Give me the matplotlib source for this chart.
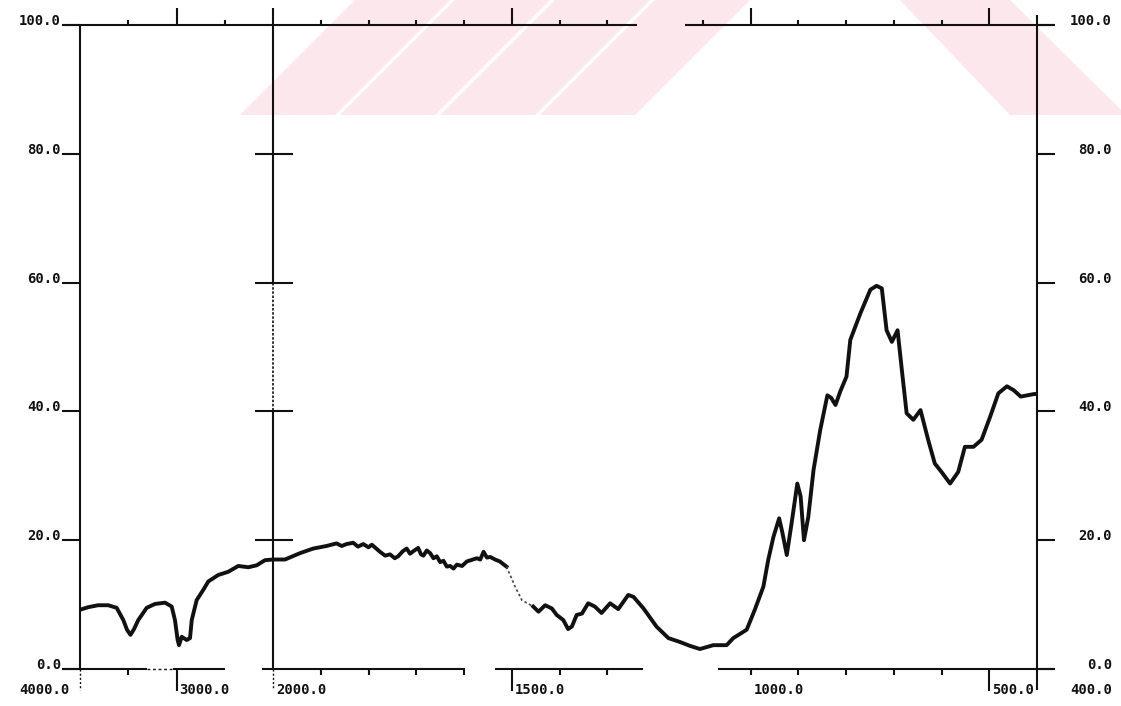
import numpy as np
import matplotlib
matplotlib.use("Agg")
import matplotlib.pyplot as plt
from matplotlib.patches import Polygon
from matplotlib.transforms import offset_copy

# IR trace: wavenumber (cm-1) vs transmittance (%)
wavenumber = [
    4000, 3914, 3813, 3707, 3620, 3551, 3513, 3477, 3440, 3396, 3309, 3223,
    3119, 3050, 3016, 2988, 2974, 2946, 2894, 2860, 2842, 2791, 2722, 2670,
    2567, 2463, 2360, 2256, 2169, 2083, 2000,
    1975, 1943, 1916, 1888, 1867, 1856, 1846, 1832, 1822, 1811, 1800, 1793,
    1776, 1765, 1755, 1745, 1738, 1728, 1720, 1713, 1706, 1696, 1690, 1685,
    1678, 1671, 1664, 1657, 1650, 1643, 1636, 1629, 1622, 1615, 1604, 1594,
    1573, 1566, 1559, 1552, 1545, 1535, 1525, 1511,
    1493, 1479, 1455, 1444, 1430, 1416, 1406, 1392, 1382, 1374, 1364, 1353,
    1340, 1326, 1312, 1294, 1277, 1256, 1245, 1224, 1197, 1172, 1148, 1127,
    1106, 1078, 1050, 1036, 1008, 991, 973, 963, 952, 940, 933, 924, 914,
    902, 895, 888, 879, 868, 854, 839, 831, 822, 812, 799, 791, 770, 749,
    736, 725, 715, 704, 692, 683, 673, 659, 644, 628, 614, 600, 582, 565,
    551, 533, 516, 498, 481, 463, 449, 434, 406, 400,
]
transmittance = [
    9.2, 9.6, 9.9, 9.9, 9.5, 7.6, 6.1, 5.3, 6.2, 7.6, 9.5, 10.1,
    10.3, 9.7, 7.6, 4.5, 3.7, 5.0, 4.5, 4.8, 7.6, 10.7, 12.3, 13.6,
    14.6, 15.1, 16.0, 15.8, 16.1, 16.9, 17.0,
    17.0, 18.0, 18.7, 19.1, 19.5, 19.1, 19.4, 19.6, 19.0, 19.4, 18.9, 19.3,
    18.2, 17.6, 17.8, 17.2, 17.5, 18.3, 18.7, 17.9, 18.3, 18.8, 17.8, 17.6,
    18.4, 18.0, 17.2, 17.5, 16.6, 16.8, 15.9, 16.0, 15.6, 16.2, 16.0, 16.7,
    17.2, 17.0, 18.2, 17.3, 17.4, 17.0, 16.7, 15.9,
    12.8, 10.7, 9.7, 8.9, 9.9, 9.4, 8.4, 7.6, 6.2, 6.6, 8.4, 8.6,
    10.2, 9.7, 8.7, 10.2, 9.3, 11.5, 11.2, 9.4, 6.6, 4.8, 4.2, 3.6,
    3.1, 3.7, 3.7, 4.8, 6.1, 9.2, 12.8, 16.9, 20.5, 23.4, 21.1, 17.7, 22.6,
    28.8, 26.8, 20.0, 23.6, 30.9, 37.1, 42.5, 42.1, 41.0, 43.1, 45.4, 51.1,
    55.2, 58.9, 59.5, 59.1, 52.6, 50.8, 52.6, 46.4, 39.7, 38.7, 40.2, 35.6,
    31.9, 30.6, 28.8, 30.6, 34.5, 34.5, 35.6, 39.2, 42.8, 43.9, 43.3, 42.3,
    42.7, 42.7,
]

y_ticks = [0, 20, 40, 60, 80, 100]
y_labels = ["0.0", "20.0", "40.0", "60.0", "80.0", "100.0"]
x_label_pos = [4000, 3000, 2000, 1500, 1000, 500, 400]
x_labels = ["4000.0", "3000.0", "2000.0", "1500.0", "1000.0", "500.0", "400.0"]
top_major = [3000, 1500, 1000, 500]
top_minor = [3500, 2500, 1900, 1800, 1700, 1600, 1400, 1300, 1100, 900, 800, 700, 600]
bottom_major = [3000, 1500, 500]
bottom_minor = [3500, 1900, 1800, 1700, 1600, 1400, 1300, 1000, 900, 800, 700, 600]
cross_levels = [20, 40, 60, 80]

# chart paper has a scale change at 2000 cm-1
BREAK = 2000.0
K_HI = 0.0965   # px per cm-1 above the break
K_LO = 0.4775   # px per cm-1 below the break
U_BREAK = (4000.0 - BREAK) * K_HI


# increasing in w, so an inverted xlim puts 4000 on the left
def fwd(w):
    w = np.asarray(w, dtype=float)
    return -np.where(w >= BREAK, (4000.0 - w) * K_HI, U_BREAK + (BREAK - w) * K_LO)


def inv(u):
    u = -np.asarray(u, dtype=float)
    return np.where(u <= U_BREAK, 4000.0 - u / K_HI, BREAK - (u - U_BREAK) / K_LO)


W, H = 1121, 706
fig = plt.figure(figsize=(W / 100, H / 100), dpi=100)
fig.patch.set_facecolor("white")

# faint pink stripes of the paper's watermark
pink = "#fce8ec"
for x0 in [240, 340, 440, 540]:
    fig.patches.append(Polygon(
        [(x0 / W, 1 - 115 / H), ((x0 + 95) / W, 1 - 115 / H),
         ((x0 + 210) / W, 1.0), ((x0 + 115) / W, 1.0)],
        closed=True, transform=fig.transFigure, facecolor=pink,
        edgecolor="none", zorder=0))
fig.patches.append(Polygon(
    [(900 / W, 1.0), (1010 / W, 1.0), (1121 / W, 1 - 110 / H),
     (1121 / W, 1 - 115 / H), (1010 / W, 1 - 115 / H)],
    closed=True, transform=fig.transFigure, facecolor=pink,
    edgecolor="none", zorder=0))

ax = fig.add_axes([80 / W, (H - 669) / H, 957 / W, 644 / H])
ax.set_zorder(2)
ax.patch.set_alpha(0)
ax.set_xscale("function", functions=(fwd, inv))
ax.set_xlim(4000, 400)
ax.set_ylim(0, 100)
for s in ax.spines.values():
    s.set_visible(False)
ax.set_xticks([])
ax.set_yticks([])

ink = "#111111"
lw_ax = 1.5
xt = ax.get_xaxis_transform()
yt = ax.get_yaxis_transform()
kw = dict(color=ink, lw=lw_ax, clip_on=False, solid_capstyle="butt")

# frame lines with the gaps of the worn chart
for a, b in [(4155, 1237), (1138, 362)]:
    ax.plot([a, b], [100, 100], **kw)
for a, b in [(4187, 3306), (3036, 2497), (2114, 1598), (1535, 1225), (1068, 362)]:
    ax.plot([a, b], [0, 0], **kw)
ax.plot([3306, 3036], [0, 0], color=ink, lw=1.0, ls=(0, (2, 2)), clip_on=False)

ax.plot([4000, 4000], [1.0, 0.0], transform=xt, **kw)
ax.plot([4000, 4000], [0.0, -0.033], transform=xt, color=ink, lw=1.0,
        ls=(0, (1.5, 1.5)), clip_on=False)
ax.plot([400, 400], [1.016, -0.033], transform=xt, **kw)
ax.plot([2000, 2000], [1.026, 0.6], transform=xt, **kw)
ax.plot([2000, 2000], [0.6, 0.4], transform=xt, color=ink, lw=1.2,
        ls=(0, (1.5, 1.0)), clip_on=False)
ax.plot([2000, 2000], [0.4, 0.0], transform=xt, **kw)
ax.plot([2000, 2000], [0.0, -0.03], transform=xt, color=ink, lw=1.0,
        ls=(0, (1.5, 1.5)), clip_on=False)
for lev in cross_levels:
    ax.plot([2186, 1958], [lev, lev], **kw)

# ticks
for w in top_major:
    ax.plot([w, w], [1.0, 1.026], transform=xt, **kw)
for w in top_minor:
    ax.plot([w, w], [1.0, 1.007], transform=xt, **kw)
for w in bottom_major:
    ax.plot([w, w], [0.0, -0.034], transform=xt, **kw)
for w in bottom_minor:
    ax.plot([w, w], [0.0, -0.009], transform=xt, **kw)
for v in y_ticks:
    ax.plot([-0.019, 0.0], [v, v], transform=yt, **kw)
    ax.plot([1.0, 1.019], [v, v], transform=yt, **kw)

# labels
font = dict(family="DejaVu Sans Mono", weight="bold", size=10, color=ink)
left_tr = offset_copy(ax.transData, fig=fig, x=-19, y=0, units="dots")
right_tr = offset_copy(ax.transData, fig=fig, x=75, y=0, units="dots")
for v, lab in zip(y_ticks, y_labels):
    ax.text(4000, v, lab, transform=left_tr, ha="right", va="baseline", **font)
    ax.text(400, v, lab, transform=right_tr, ha="right", va="baseline", **font)

for w, lab in zip(x_label_pos, x_labels):
    if w == 4000:
        tr = offset_copy(ax.transData, fig=fig, x=-10, y=-21, units="dots")
        ha = "right"
    elif w == 400:
        tr = offset_copy(ax.transData, fig=fig, x=75, y=-21, units="dots")
        ha = "right"
    else:
        tr = offset_copy(ax.transData, fig=fig, x=3, y=-21, units="dots")
        ha = "left"
    ax.text(w, 0, lab, transform=tr, ha=ha, va="center", **font)

# the trace; the pen ran faint just below 1511 cm-1
wn = np.array(wavenumber, dtype=float)
tr_ = np.array(transmittance, dtype=float)
hi = wn >= 1511
mid = (wn <= 1511) & (wn >= 1455)
lo = wn <= 1455
ax.plot(wn[hi], tr_[hi], color=ink, lw=2.8, solid_joinstyle="round", zorder=3)
ax.plot(wn[mid], tr_[mid], color="#444444", lw=1.2, ls=(0, (1.5, 1.5)), zorder=3)
ax.plot(wn[lo], tr_[lo], color=ink, lw=2.8, solid_joinstyle="round", zorder=3)

fig.savefig("out.png", dpi=100, facecolor="white")
